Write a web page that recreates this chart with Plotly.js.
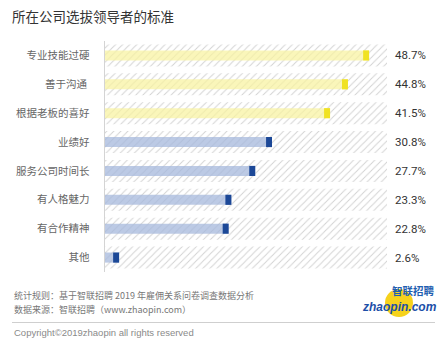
<!DOCTYPE html>
<html><head><meta charset="utf-8">
<script src="https://cdn.plot.ly/plotly-3.0.1.min.js"></script>
<style>html,body{margin:0;padding:0;background:#fff}#c{width:440px;height:338px}</style>
</head><body><div id="c"></div>
<script>
var categories = ["专业技能过硬","善于沟通 ","根据老板的喜好","业绩好","服务公司时间长","有人格魅力","有合作精神","其他"];
var values = [48.7, 44.8, 41.5, 30.8, 27.7, 23.3, 22.8, 2.6];
var axisMax = 52;
var capW = 1.1;

var W = 440, H = 338, L = 105, R = 53, T = 41, B = 66;
var pw = W - L - R, ph = H - T - B;
function px(x){ return (x - L) / pw; }
function py(y){ return (H - B - y) / ph; }

var font = "Noto Sans CJK SC, Noto Sans, sans-serif";
var lightCols = values.map(function(v,i){ return i < 3 ? "rgba(248,243,160,0.72)" : "rgba(165,184,220,0.75)"; });
var capCols = values.map(function(v,i){ return i < 3 ? "#f0e223" : "#1c4897"; });

var bg = {
  type: "bar", orientation: "h", y: categories, x: categories.map(function(){ return axisMax; }),
  width: 0.76, hoverinfo: "skip",
  marker: { color: "#ffffff", line: {width: 0},
    pattern: { shape: "/", fgcolor: "#d2d2d2", bgcolor: "#ffffff", size: 5, solidity: 0.18 } }
};
var light = {
  type: "bar", orientation: "h", y: categories, x: values, width: 0.35,
  marker: { color: lightCols, line: {width: 0} }
};
var caps = {
  type: "bar", orientation: "h", y: categories,
  base: values.map(function(v){ return v - capW; }),
  x: values.map(function(){ return capW; }), width: 0.35,
  marker: { color: capCols, line: {width: 0} }
};

var ann = values.map(function(v,i){
  return { xref: "paper", yref: "y", x: px(393), y: categories[i], text: v.toFixed(1) + "%",
    xanchor: "left", yanchor: "middle", showarrow: false,
    font: { family: "Roboto, sans-serif", size: 11.5, color: "#333" } };
});
function txt(x, y, t, size, color, extra){
  var a = { xref: "paper", yref: "paper", x: px(x), y: py(y), text: t, xanchor: "left", yanchor: "middle",
    showarrow: false, font: { family: font, size: size, color: color } };
  if (extra) for (var k in extra) a[k] = extra[k];
  return a;
}
ann.push(txt(12, 295.5, "统计规则：基于智联招聘 2019 年雇佣关系问卷调查数据分析", 9, "#777"));
ann.push(txt(12, 309.5, "数据来源：智联招聘（www.zhaopin.com）", 9, "#777"));
ann.push(txt(12, 332, "Copyright©2019zhaopin all rights reserved", 9, "#888", {font:{family:"Liberation Sans, sans-serif", size:9.5, color:"#8a8a8a"}}));
ann.push(txt(391, 298.5, "<b>智联招聘</b>", 10.5, "#1f5fb0", {yanchor: "bottom", borderpad: 0}));
ann.push(txt(361, 298.5, "<b><i>zhaopin.com</i></b>", 12, "#1c4fa8", {yanchor: "top", borderpad: 0, font:{family:"Liberation Sans, Arial, sans-serif", size:12, color:"#1c4fa8"}}));

var shapes = [
  { type: "circle", xref: "paper", yref: "paper", x0: px(385), x1: px(413), y0: py(317), y1: py(289),
    fillcolor: "#f6d21c", line: {width: 0}, layer: "below" },
  { type: "line", xref: "paper", yref: "paper", x0: px(12), x1: px(435), y0: py(322.5), y1: py(322.5),
    line: { color: "#cfcfcf", width: 1 } }
];

var layout = {
  width: W, height: H, margin: { l: L, r: R, t: T, b: B, pad: 0 },
  paper_bgcolor: "#fff", plot_bgcolor: "#fff",
  barmode: "overlay", showlegend: false,
  title: { text: "所在公司选拔领导者的标准", xref: "container", yref: "container", x: 12/W, xanchor: "left",
    y: 1 - 17/H, yanchor: "middle", font: { family: font, size: 13.5, color: "#333" } },
  xaxis: { range: [0, axisMax], showgrid: false, zeroline: false, showticklabels: false, showline: false, fixedrange: true },
  yaxis: { autorange: "reversed", showgrid: false, zeroline: false, showline: true, linecolor: "#d4d4d4", linewidth: 1.5,
    ticks: "outside", ticklen: 12, tickcolor: "rgba(0,0,0,0)",
    tickfont: { family: font, size: 10.5, color: "#666" } },
  annotations: ann, shapes: shapes
};
Plotly.newPlot("c", [bg, light, caps], layout, { staticPlot: true, displayModeBar: false });
</script></body></html>
